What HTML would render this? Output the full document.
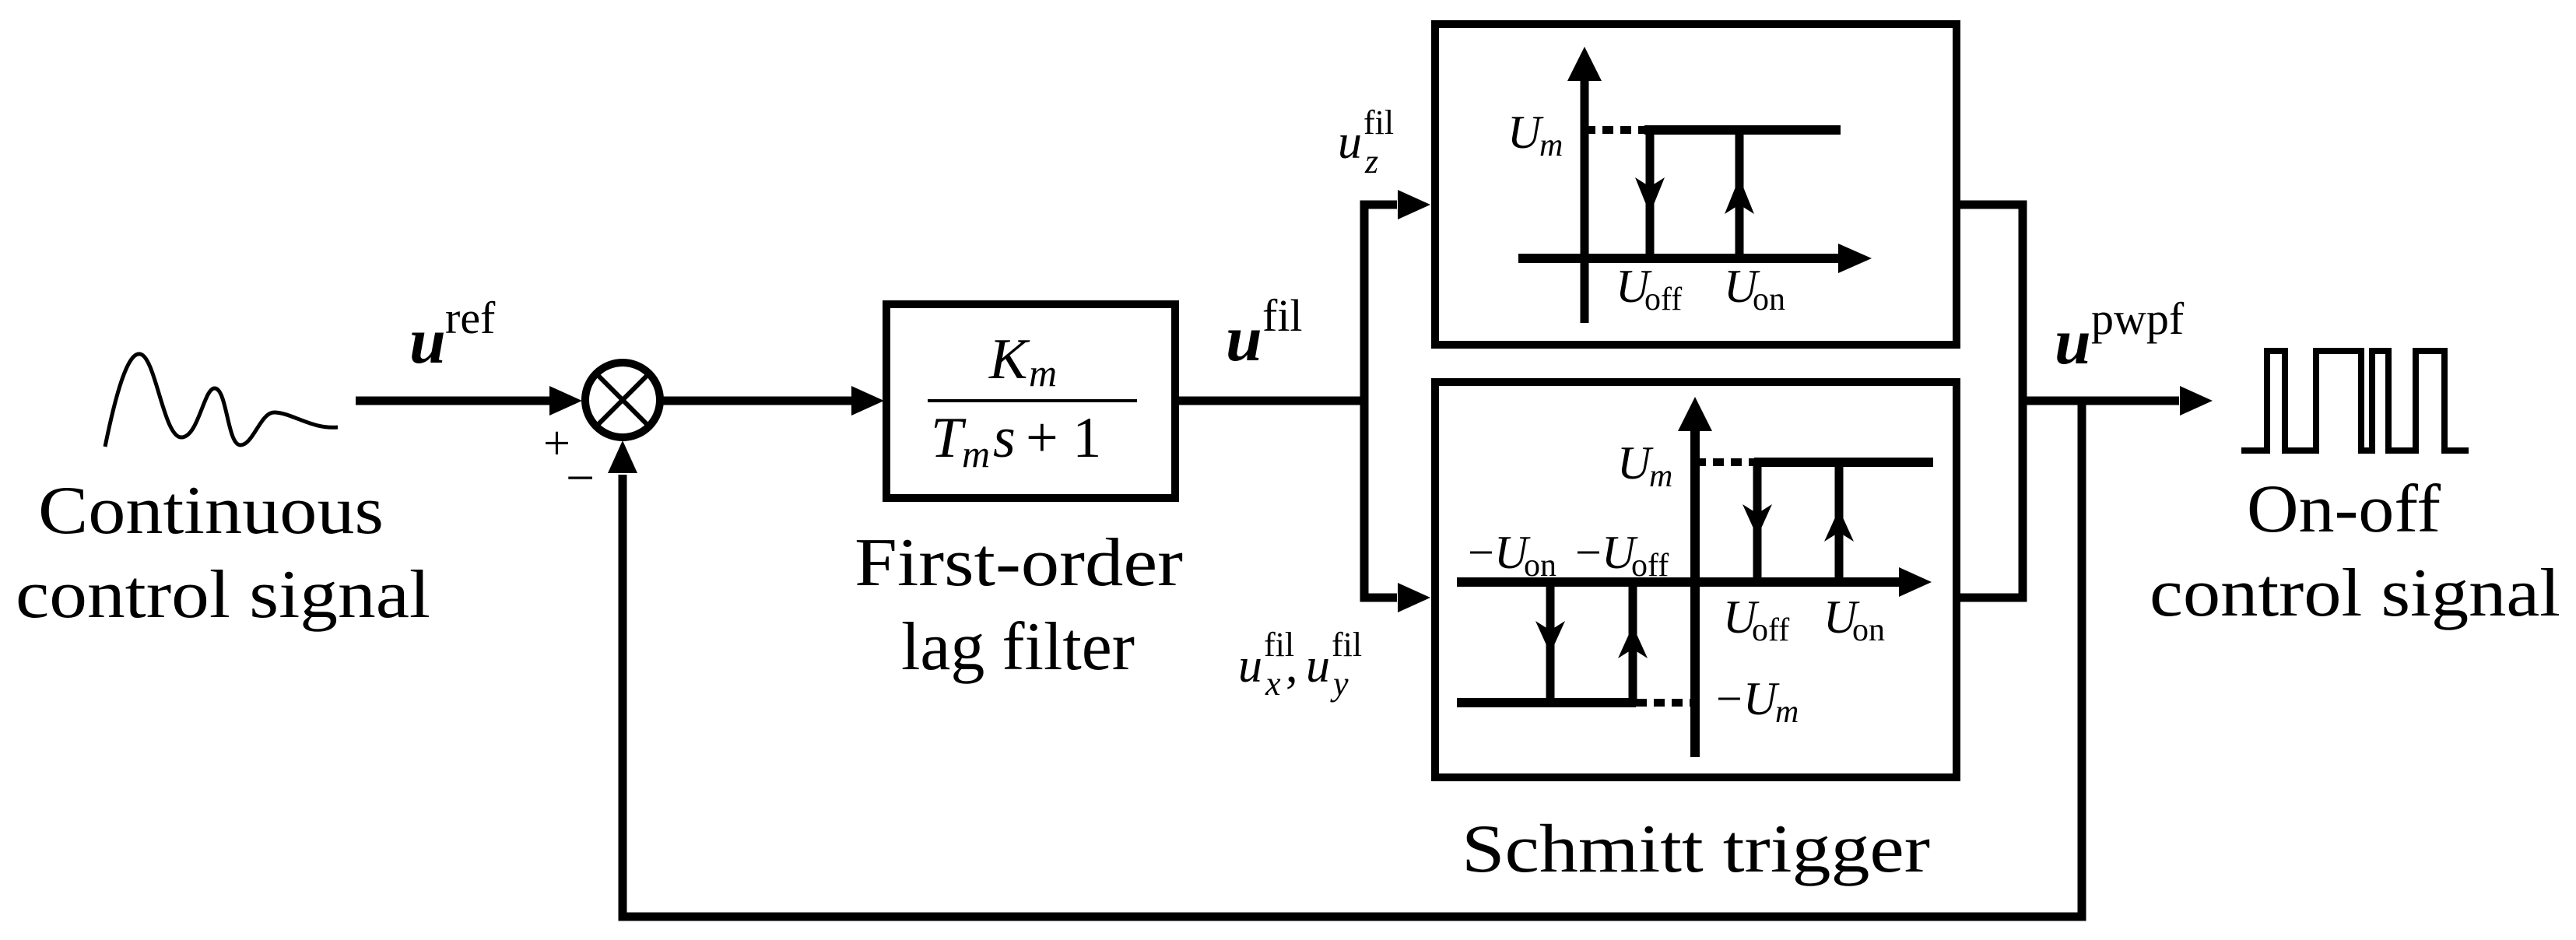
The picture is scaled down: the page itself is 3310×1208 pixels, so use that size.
<!DOCTYPE html>
<html><head><meta charset="utf-8"><style>
html,body{margin:0;padding:0;background:#fff;}
svg{display:block;}
text{font-family:"Liberation Serif","DejaVu Serif",serif;fill:#000;}
.it{font-style:italic;}
.bi{font-style:italic;font-weight:bold;}
</style></head><body>
<svg width="3310" height="1208" viewBox="0 0 3310 1208" xmlns="http://www.w3.org/2000/svg">
<g fill="none" stroke="#000" stroke-width="11" stroke-linejoin="miter">
  <path d="M135 574 C150 500 165 452 180 455 C200 458 210 562 233 562 C255 562 262 498 276 499 C292 500 292 572 309 572 C325 572 335 530 352 530 C375 530 400 552 434 549" stroke-width="5"/>
  <line x1="457" y1="515" x2="715" y2="515"/>
  <circle cx="800" cy="514" r="48" stroke-width="10"/>
  <line x1="766" y1="480" x2="834" y2="548" stroke-width="6"/>
  <line x1="834" y1="480" x2="766" y2="548" stroke-width="6"/>
  <line x1="850" y1="515" x2="1095" y2="515"/>
  <rect x="1139" y="391" width="371" height="249" stroke-width="10"/>
  <line x1="1192" y1="515" x2="1461" y2="515" stroke-width="4"/>
  <line x1="1510" y1="515" x2="1753" y2="515"/>
  <polyline points="1795,263 1753,263 1753,768 1795,768"/>
  <rect x="1844" y="31" width="670" height="412" stroke-width="10"/>
  <rect x="1844" y="491" width="670" height="508" stroke-width="10"/>
  <polyline points="2514,263 2599,263 2599,768 2514,768"/>
  <line x1="2599" y1="515" x2="2800" y2="515"/>
  <polyline points="2675,515 2675,1178 800,1178 800,610"/>
  <polyline points="2880,579 2913,579 2913,451 2936,451 2936,579 2976,579 2976,451 3034,451 3034,579 3048,579 3048,451 3069,451 3069,579 3104,579 3104,451 3141,451 3141,579 3172,579" stroke-width="8"/>
  <line x1="2036" y1="95" x2="2036" y2="415" stroke-width="11"/>
  <line x1="1951" y1="332" x2="2370" y2="332" stroke-width="12"/>
  <line x1="2113" y1="167" x2="2365" y2="167" stroke-width="12"/>
  <line x1="2036" y1="167" x2="2113" y2="167" stroke-width="10" stroke-dasharray="14,9"/>
  <line x1="2120" y1="167" x2="2120" y2="332"/>
  <line x1="2235" y1="167" x2="2235" y2="332"/>
  <line x1="2178" y1="545" x2="2178" y2="973" stroke-width="12"/>
  <line x1="1872" y1="748" x2="2445" y2="748" stroke-width="12"/>
  <line x1="2254" y1="594" x2="2484" y2="594" stroke-width="12"/>
  <line x1="2178" y1="594" x2="2254" y2="594" stroke-width="10" stroke-dasharray="14,9"/>
  <line x1="2258" y1="594" x2="2258" y2="748"/>
  <line x1="2363" y1="594" x2="2363" y2="748"/>
  <line x1="1872" y1="903" x2="2102" y2="903" stroke-width="12"/>
  <line x1="2102" y1="903" x2="2178" y2="903" stroke-width="10" stroke-dasharray="14,9"/>
  <line x1="1992" y1="748" x2="1992" y2="903"/>
  <line x1="2098" y1="748" x2="2098" y2="903"/>
</g>
<g fill="#000" stroke="none">
  <polygon points="748,515 706,496 706,534"/>
  <polygon points="1136,515 1094,496 1094,534"/>
  <polygon points="1838,263 1796,244 1796,282"/>
  <polygon points="1838,768 1796,749 1796,787"/>
  <polygon points="2843,515 2801,496 2801,534"/>
  <polygon points="800,566 781,608 819,608"/>
  <polygon points="2036,60 2014,104 2058,104"/>
  <polygon points="2405,332 2362,313 2362,351"/>
  <polygon points="2120,275 2101,228 2120,240 2139,228"/>
  <polygon points="2235,228 2216,275 2235,263 2254,275"/>
  <polygon points="2178,510 2156,554 2200,554"/>
  <polygon points="2482,748 2440,729 2440,767"/>
  <polygon points="2258,690 2239,648 2258,660 2277,648"/>
  <polygon points="2363,654 2344,696 2363,684 2382,696"/>
  <polygon points="1992,840 1973,798 1992,810 2011,798"/>
  <polygon points="2098,804 2079,846 2098,834 2117,846"/>
</g>
<text x="49" y="685" font-size="88" textLength="444" lengthAdjust="spacingAndGlyphs">Continuous</text>
<text x="20" y="793" font-size="88" textLength="533" lengthAdjust="spacingAndGlyphs">control signal</text>
<text x="526" y="466" font-size="84" class="bi">u</text><text x="572" y="428" font-size="58">ref</text>
<text x="698" y="590" font-size="62">+</text>
<text x="727" y="636" font-size="66">−</text>
<text x="1271" y="486" font-size="74" class="it">K</text><text x="1322" y="496" font-size="50" class="it">m</text>
<text x="1196" y="587" font-size="74" class="it">T</text><text x="1236" y="600" font-size="50" class="it">m</text><text x="1276" y="587" font-size="74" class="it">s</text><text x="1318" y="587" font-size="74">+ 1</text>
<text x="1098" y="752" font-size="88" textLength="422" lengthAdjust="spacingAndGlyphs">First-order</text>
<text x="1158" y="860" font-size="88" textLength="300" lengthAdjust="spacingAndGlyphs">lag filter</text>
<text x="1575" y="463" font-size="84" class="bi">u</text><text x="1622" y="425" font-size="58">fil</text>
<text x="1719" y="203" font-size="62" class="it">u</text><text x="1752" y="172" font-size="44">fil</text><text x="1754" y="222" font-size="44" class="it">z</text>
<text x="1591" y="876" font-size="62" class="it">u</text><text x="1624" y="843" font-size="44">fil</text><text x="1626" y="893" font-size="44" class="it">x</text><text x="1652" y="876" font-size="62">,</text><text x="1678" y="876" font-size="62" class="it">u</text><text x="1711" y="843" font-size="44">fil</text><text x="1713" y="893" font-size="44" class="it">y</text>
<text x="1937" y="190" font-size="60" class="it">U</text><text x="1978" y="200" font-size="42" class="it">m</text>
<text x="2076" y="388" font-size="60" class="it">U</text><text x="2113" y="398" font-size="42">off</text>
<text x="2215" y="388" font-size="60" class="it">U</text><text x="2252" y="398" font-size="42">on</text>
<text x="2078" y="615" font-size="60" class="it">U</text><text x="2119" y="625" font-size="42" class="it">m</text>
<text x="1886" y="730" font-size="60">−</text><text x="1920" y="730" font-size="60" class="it">U</text><text x="1958" y="740" font-size="42">on</text>
<text x="2024" y="730" font-size="60">−</text><text x="2058" y="730" font-size="60" class="it">U</text><text x="2096" y="740" font-size="42">off</text>
<text x="2214" y="813" font-size="60" class="it">U</text><text x="2251" y="823" font-size="42">off</text>
<text x="2343" y="813" font-size="60" class="it">U</text><text x="2380" y="823" font-size="42">on</text>
<text x="2205" y="918" font-size="60">−</text><text x="2240" y="918" font-size="60" class="it">U</text><text x="2281" y="928" font-size="42" class="it">m</text>
<text x="1878" y="1120" font-size="88" textLength="602" lengthAdjust="spacingAndGlyphs">Schmitt trigger</text>
<text x="2640" y="467" font-size="84" class="bi">u</text><text x="2687" y="429" font-size="58">pwpf</text>
<text x="2887" y="683" font-size="88" textLength="249" lengthAdjust="spacingAndGlyphs">On-off</text>
<text x="2762" y="791" font-size="88" textLength="528" lengthAdjust="spacingAndGlyphs">control signal</text>
</svg>
</body></html>
